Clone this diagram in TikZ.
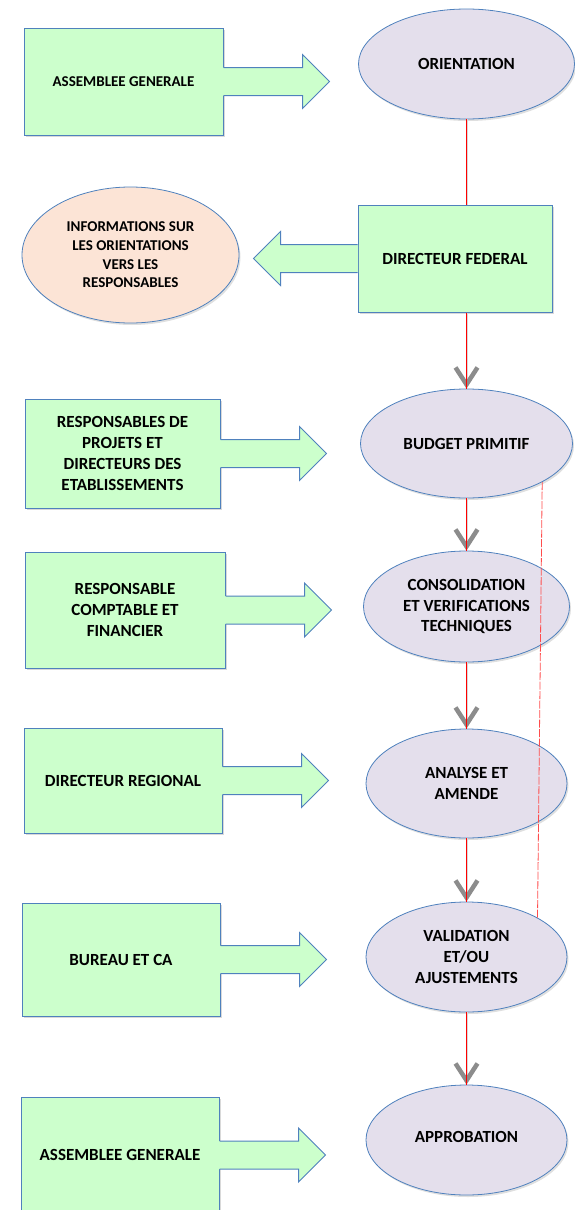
\documentclass[tikz,border=0pt]{standalone}
\usepackage{fontspec}
\setmainfont{Carlito}
\usetikzlibrary{shapes.geometric,arrows.meta,shadows,calc}

\definecolor{boxgreen}{HTML}{CCFFCC}
\definecolor{lineblue}{HTML}{4F81BD}
\definecolor{lilac}{HTML}{E4DFEC}
\definecolor{peach}{HTML}{FCE4D6}
\definecolor{flowgrey}{HTML}{8C8C8C}

\tikzset{
  acteur/.style={rectangle, draw=lineblue, fill=boxgreen, line width=1pt, align=center, inner sep=0pt,
    drop shadow={opacity=0.3, shadow xshift=1.5pt, shadow yshift=-2pt}},
  etape/.style={ellipse, draw=lineblue, fill=lilac, line width=0.8pt, align=center, inner sep=0pt,
    drop shadow={opacity=0.25, shadow xshift=1.5pt, shadow yshift=-2pt}},
  petit/.style={font=\bfseries\fontsize{15}{18.7}\selectfont},
  flux/.style={draw=flowgrey!35, line width=2pt, -{Straight Barb[length=17pt,width=22pt,line width=4.5pt,color=flowgrey]}},
  fil/.style={draw=red, line width=1pt},
  retour/.style={draw=red!70, line width=0.8pt, dash pattern=on 8pt off 1.5pt},
  barrow/.style={draw=lineblue, line width=1pt, line join=miter}
}

\begin{document}
\begin{tikzpicture}[x=1pt, y=-1pt, font=\bfseries\fontsize{17}{20.7}\selectfont]
\useasboundingbox (0,0) rectangle (575,1210);
\clip (0,0) rectangle (575,1210);

% acteurs
\node[acteur, petit, minimum width=199pt, minimum height=107pt] (ag1) at (123.5,81.5) {ASSEMBLEE GENERALE};
\node[acteur, minimum width=194pt, minimum height=107pt] (df) at (455,258.5) {DIRECTEUR FEDERAL};
\node[acteur, minimum width=195pt, minimum height=109pt] (rpe) at (122.5,453.5) {RESPONSABLES DE\\PROJETS ET\\DIRECTEURS DES\\ETABLISSEMENTS};
\node[acteur, minimum width=200pt, minimum height=116pt] (rcf) at (125,610) {RESPONSABLE\\COMPTABLE ET\\FINANCIER};
\node[acteur, minimum width=198pt, minimum height=105pt] (dreg) at (123,780.5) {DIRECTEUR REGIONAL};
\node[acteur, minimum width=198pt, minimum height=113pt] (bur) at (121,959.5) {BUREAU ET CA};
\node[acteur, minimum width=198pt, minimum height=116pt] (ag2) at (120,1155) {ASSEMBLEE GENERALE};

% etapes
\node[etape, minimum width=216pt, minimum height=110pt] (orient) at (466.5,64) {ORIENTATION};
\node[etape, petit, fill=peach, minimum width=217pt, minimum height=136pt] (info) at (130.5,255) {INFORMATIONS SUR\\LES ORIENTATIONS\\VERS LES\\RESPONSABLES};
\node[etape, minimum width=212pt, minimum height=109pt] (budget) at (466.5,443.5) {BUDGET PRIMITIF};
\node[etape, minimum width=206pt, minimum height=111pt] (consol) at (466.5,606.5) {CONSOLIDATION\\ET VERIFICATIONS\\TECHNIQUES};
\node[etape, minimum width=201pt, minimum height=109pt] (analyse) at (466.5,783.5) {ANALYSE ET\\AMENDE};
\node[etape, minimum width=201pt, minimum height=110pt] (valid) at (466.5,957) {VALIDATION\\ET/OU\\AJUSTEMENTS};
\node[etape, minimum width=201pt, minimum height=110pt] (approb) at (466.5,1140) {\raisebox{6pt}{APPROBATION}};

% grosses fleches vers la droite
\foreach \b in {ag1,rpe,rcf,dreg,bur,ag2}{
  \fill[boxgreen] ($(\b.east)+(-0.6,-14)$) -- ++(79.6,0) -- ++(0,-13) -- ++(27,27) -- ++(-27,27) -- ++(0,-13) -- ++(-79.6,0) -- cycle;
  \draw[barrow] ($(\b.east)+(0,-14)$) -- ++(79,0) -- ++(0,-13) -- ++(27,27) -- ++(-27,27) -- ++(0,-13) -- ++(-79,0);
}
% fleche vers la gauche
\fill[boxgreen] ($(df.west)+(0.6,-14)$) -- ++(-77.6,0) -- ++(0,-13) -- ++(-27,27) -- ++(27,27) -- ++(0,-13) -- ++(77.6,0) -- cycle;
\draw[barrow] ($(df.west)+(0,-14)$) -- ++(-77,0) -- ++(0,-13) -- ++(-27,27) -- ++(27,27) -- ++(0,-13) -- ++(77,0);

% enchainement
\draw[draw=flowgrey!35, line width=2pt] (orient.south) -- (orient.south |- df.north);
\draw[fil] (orient.south) -- (orient.south |- df.north);
\draw[flux] (budget.north |- df.south) -- (budget.north);
\draw[fil] (budget.north |- df.south) -- (budget.north);
\foreach \a/\b in {budget/consol, consol/analyse, analyse/valid, valid/approb}{
  \draw[flux] (\a.south) -- (\b.north);
  \draw[fil] (\a.south) -- (\b.north);
}
\draw[retour] (budget.-27) -- (valid.29);
\end{tikzpicture}
\end{document}
